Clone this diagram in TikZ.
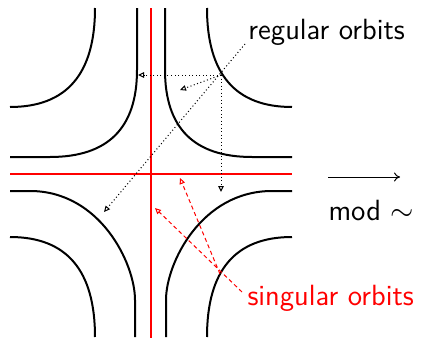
\documentclass[tikz,border=0pt]{standalone}
\usetikzlibrary{arrows.meta}
\begin{document}
\begin{tikzpicture}[x=0.4pt,y=-0.4pt,
  curve/.style={line width=0.8pt},
  axis/.style={red, line width=0.8pt},
  regarrow/.style={densely dotted, line width=0.4pt, -{Triangle[open,length=2.4pt,width=2.2pt]}},
  singarrow/.style={red, dash pattern=on 1.6pt off 1.2pt, line width=0.4pt, -{Triangle[open,length=2.4pt,width=2.2pt]}},
  lbl/.style={font=\fontsize{11.7}{14}\selectfont\sffamily, inner sep=0pt, anchor=base west}]
\useasboundingbox (0,0) rectangle (421,340);
% level curves
\draw[curve] (95,8) .. controls (95,74) and (66.7,107) .. (10,107);
\draw[curve] (137,8) -- (137,70) .. controls (137,128) and (108,157) .. (50,157) -- (10,157);
\draw[curve] (207,8) .. controls (207,74) and (235.3,107) .. (292,107);
\draw[curve] (165,8) -- (165,70) .. controls (165,128) and (194,157) .. (252,157) -- (292,157);
\draw[curve] (10,237) .. controls (66.7,237) and (95,270.3) .. (95,337);
\draw[curve] (10,191) -- (30,191) .. controls (100,191) and (135,263.3) .. (135,300) -- (135,337);
\draw[curve] (292,237) .. controls (235.3,237) and (207,270.3) .. (207,337);
\draw[curve] (292,191) -- (272,191) .. controls (201.3,191) and (166,263.3) .. (166,300) -- (166,337);
% singular orbits (axes)
\draw[axis] (151,8) -- (151,338);
\draw[axis] (10,174) -- (292,174);
% labels
\node[lbl] (reg) at (248,40) {regular orbits};
\node[lbl, text=red] (sing) at (247,305) {singular orbits};
\node[lbl] (mod) at (328,220) {mod $\sim$};
% quotient arrow
\coordinate (ma) at (328,177);
\coordinate (mb) at (400,177);
\draw[-{To[length=2.4pt,width=3.6pt]}, line width=0.4pt] (ma) -- (mb);
% regular orbit pointers
\coordinate (regsrc) at (245,44);
\coordinate (hub) at (221,75);
\coordinate (t1) at (138,75);
\coordinate (t2) at (180,90);
\coordinate (t3) at (221,192);
\coordinate (t4) at (104,212);
\draw[regarrow] (regsrc) -- (t4);
\draw[regarrow] (hub) -- (t1);
\draw[regarrow] (hub) -- (t2);
\draw[regarrow] (hub) -- (t3);
% singular orbit pointers
\coordinate (s1) at (242,292);
\coordinate (s2) at (220,274);
\coordinate (u1) at (155,208);
\coordinate (u2) at (180,178);
\draw[singarrow] (s1) -- (u1);
\draw[singarrow] (s2) -- (u2);
\end{tikzpicture}
\end{document}
